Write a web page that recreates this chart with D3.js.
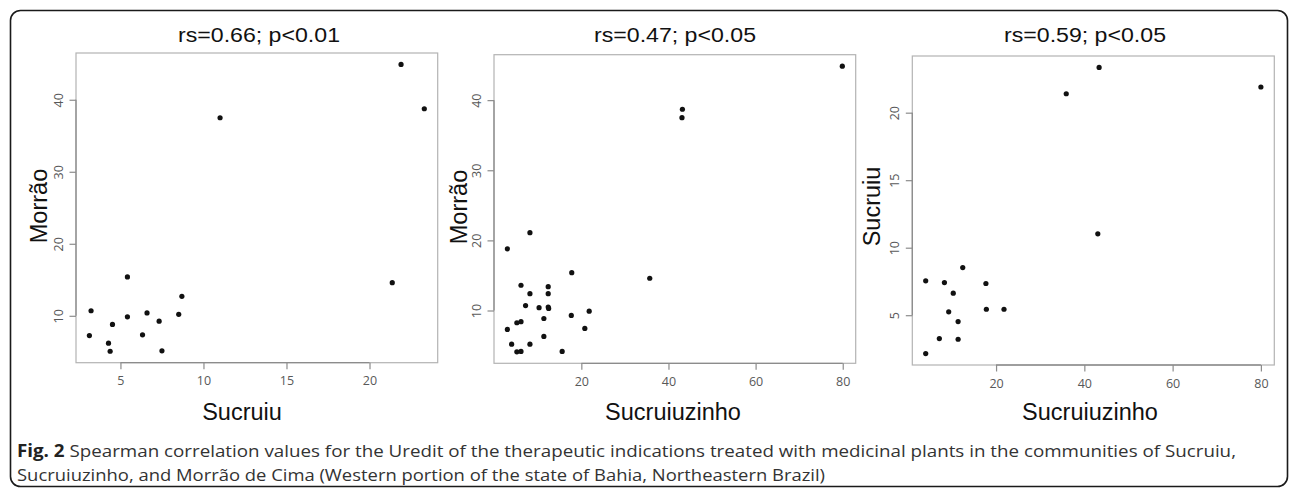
<!DOCTYPE html>
<html>
<head>
<meta charset="utf-8">
<script src="https://cdn.jsdelivr.net/npm/d3@7"></script>
<style>
  html, body { margin: 0; padding: 0; background: #fff; }
  svg { display: block; }
</style>
</head>
<body>
<svg id="chart" width="1295" height="490"></svg>
<script>
// ---------- data ----------
const panelTitles = ["rs=0.66; p<0.01", "rs=0.47; p<0.05", "rs=0.59; p<0.05"];
const xLabels = ["Sucruiu", "Sucruiuzinho", "Sucruiuzinho"];
const yLabels = ["Morrão", "Morrão", "Sucruiu"];

const p1x = [21.9, 23.3, 11.0, 3.13, 3.23, 4.28, 4.38, 4.52, 5.42, 5.42, 6.33, 6.6, 7.33, 7.5, 8.51, 8.7, 21.37];
const p1y = [44.9, 38.75, 37.5, 7.26, 10.7, 6.2, 5.08, 8.8, 15.4, 9.86, 7.36, 10.4, 9.25, 5.14, 10.2, 12.7, 14.6];

const p2x = [79.9, 43.2, 43.1, 3.03, 8.2, 17.8, 35.7, 6.15, 12.4, 8.2, 12.4, 7.2, 10.3, 12.4, 12.5, 21.8, 17.7, 11.4, 6.15, 5.2, 3.03, 20.8, 11.4, 4.0, 8.2, 5.2, 6.15, 15.6];
const p2y = [44.85, 38.7, 37.5, 18.8, 21.1, 15.4, 14.6, 13.6, 13.4, 12.4, 12.4, 10.7, 10.4, 10.5, 10.3, 9.9, 9.3, 8.86, 8.4, 8.25, 7.3, 7.44, 6.3, 5.2, 5.2, 4.1, 4.17, 4.17];

const p3x = [43.35, 35.9, 80.0, 43.05, 12.45, 4.06, 8.3, 17.7, 10.3, 9.27, 17.8, 21.8, 11.4, 7.15, 11.4, 4.06];
const p3y = [23.35, 21.4, 21.9, 11.03, 8.53, 7.55, 7.42, 7.35, 6.63, 5.25, 5.44, 5.44, 4.53, 3.27, 3.22, 2.16];

const xTicks = [[5, 10, 15, 20], [20, 40, 60, 80], [20, 40, 60, 80]];
const yTicks = [[10, 20, 30, 40], [10, 20, 30, 40], [5, 10, 15, 20]];

const captionBold = "Fig. 2";
const captionLine1 = " Spearman correlation values for the Uredit of the therapeutic indications treated with medicinal plants in the communities of Sucruiu,";
const captionLine2 = "Sucruiuzinho, and Morrão de Cima (Western portion of the state of Bahia, Northeastern Brazil)";

// ---------- layout (pixels) ----------
const layout = [
  { box: [76, 53, 437.7, 362.7], titleX: 259, xLabX: 242, yLabX: 47, yLabY: 206 },
  { box: [494, 54.7, 855.7, 363.3], titleX: 675, xLabX: 673, yLabX: 466.5, yLabY: 207 },
  { box: [912.3, 56, 1274.3, 365], titleX: 1085, xLabX: 1090, yLabX: 880, yLabY: 206.5 }
];

const series = [[p1x, p1y], [p2x, p2y], [p3x, p3y]];

const svg = d3.select("#chart");

// outer frame
svg.append("rect")
  .attr("x", 10.5).attr("y", 10.5)
  .attr("width", 1277).attr("height", 476)
  .attr("rx", 10).attr("ry", 10)
  .attr("fill", "none").attr("stroke", "#1a1a1a").attr("stroke-width", 1.6);

// R-style 4% padded extent
function rRange(v) {
  const [lo, hi] = d3.extent(v);
  const pad = (hi - lo) * 0.04;
  return [lo - pad, hi + pad];
}

series.forEach(([xs, ys], i) => {
  const L = layout[i];
  const [x0, y0, x1, y1] = L.box;
  const x = d3.scaleLinear().domain(rRange(xs)).range([x0, x1]);
  const y = d3.scaleLinear().domain(rRange(ys)).range([y1, y0]);
  const g = svg.append("g");

  // plot box
  g.append("rect")
    .attr("x", x0).attr("y", y0).attr("width", x1 - x0).attr("height", y1 - y0)
    .attr("fill", "none").attr("stroke", "#b3b3b3").attr("stroke-width", 1.2);

  // x axis
  const xa = g.append("g").attr("transform", `translate(0,${y1})`)
    .call(d3.axisBottom(x).tickValues(xTicks[i]).tickSize(6.5).tickFormat(d3.format("d")));
  xa.select(".domain").remove();
  xa.selectAll(".tick line").attr("stroke", "#8c8c8c").attr("stroke-width", 1.2);
  xa.selectAll(".tick text")
    .attr("y", 22.5).attr("dy", null)
    .attr("fill", "#595959")
    .style("font-family", "'Open Sans', sans-serif").style("font-size", "12.5px");
  const xt = xTicks[i];
  xa.append("line")
    .attr("x1", x(xt[0])).attr("x2", x(xt[xt.length - 1]))
    .attr("stroke", "#8c8c8c").attr("stroke-width", 1.3);

  // y axis
  const ya = g.append("g").attr("transform", `translate(${x0},0)`)
    .call(d3.axisLeft(y).tickValues(yTicks[i]).tickSize(6.5).tickFormat(d3.format("d")));
  ya.select(".domain").remove();
  ya.selectAll(".tick line").attr("stroke", "#8c8c8c").attr("stroke-width", 1.2);
  ya.selectAll(".tick text")
    .attr("x", null).attr("dy", null)
    .attr("y", -13.5)
    .attr("transform", "rotate(-90)")
    .attr("text-anchor", "middle")
    .attr("fill", "#595959")
    .style("font-family", "'Open Sans', sans-serif").style("font-size", "12.5px");
  const yt = yTicks[i];
  ya.append("line")
    .attr("y1", y(yt[0])).attr("y2", y(yt[yt.length - 1]))
    .attr("stroke", "#8c8c8c").attr("stroke-width", 1.3);

  // points
  g.selectAll("circle.pt").data(xs.map((d, k) => [d, ys[k]]))
    .join("circle").attr("class", "pt")
    .attr("cx", d => x(d[0])).attr("cy", d => y(d[1]))
    .attr("r", 2.6).attr("fill", "#111");

  // title
  g.append("text")
    .attr("x", L.titleX).attr("y", 41.5)
    .attr("text-anchor", "middle")
    .attr("textLength", 162).attr("lengthAdjust", "spacingAndGlyphs")
    .style("font-family", "'Liberation Sans', Arial, sans-serif").style("font-size", "20px")
    .attr("fill", "#111")
    .text(panelTitles[i]);

  // x label
  g.append("text")
    .attr("x", L.xLabX).attr("y", 420)
    .attr("text-anchor", "middle")
    .style("font-family", "'Liberation Sans', Arial, sans-serif").style("font-size", "23.5px")
    .attr("fill", "#111")
    .text(xLabels[i]);

  // y label
  g.append("text")
    .attr("transform", `translate(${L.yLabX},${L.yLabY}) rotate(-90)`)
    .attr("text-anchor", "middle")
    .style("font-family", "'Liberation Sans', Arial, sans-serif").style("font-size", "23.5px")
    .attr("fill", "#111")
    .text(yLabels[i]);
});

// caption
const cap1 = svg.append("text")
  .attr("x", 17).attr("y", 457)
  .attr("textLength", 1219).attr("lengthAdjust", "spacingAndGlyphs")
  .style("font-family", "'Open Sans', sans-serif").style("font-size", "17px")
  .attr("fill", "#333");
cap1.append("tspan").style("font-weight", "bold").attr("fill", "#222").text(captionBold);
cap1.append("tspan").text(captionLine1);

svg.append("text")
  .attr("x", 17).attr("y", 481)
  .attr("textLength", 808).attr("lengthAdjust", "spacingAndGlyphs")
  .style("font-family", "'Open Sans', sans-serif").style("font-size", "17px")
  .attr("fill", "#333")
  .text(captionLine2);
</script>
</body>
</html>
